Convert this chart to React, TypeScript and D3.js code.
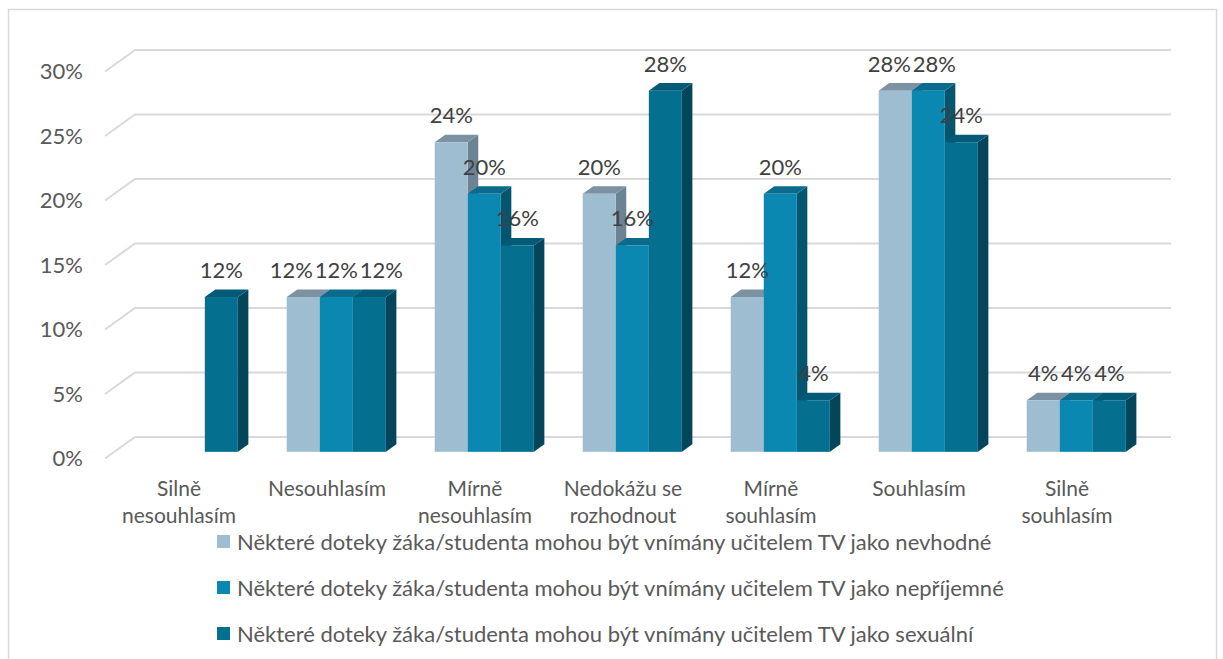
import React from 'react';
import * as d3 from 'd3';

const categories = [
  ['Silně', 'nesouhlasím'],
  ['Nesouhlasím'],
  ['Mírně', 'nesouhlasím'],
  ['Nedokážu se', 'rozhodnout'],
  ['Mírně', 'souhlasím'],
  ['Souhlasím'],
  ['Silně', 'souhlasím'],
];
const seriesNames = [
  'Některé doteky žáka/studenta mohou být vnímány učitelem TV jako nevhodné',
  'Některé doteky žáka/studenta mohou být vnímány učitelem TV jako nepříjemné',
  'Některé doteky žáka/studenta mohou být vnímány učitelem TV jako sexuální',
];
const nevhodne = [0, 12, 24, 20, 12, 28, 4];
const neprijemne = [0, 12, 20, 16, 20, 28, 4];
const sexualni = [12, 12, 16, 28, 4, 24, 4];
const yTicks = [0, 5, 10, 15, 20, 25, 30];

const values = [nevhodne, neprijemne, sexualni];
const palette = [
  { front: '#9fbdd0', top: '#7c91a2', side: '#6b8393' },
  { front: '#0b88b2', top: '#0a6b8c', side: '#05556f' },
  { front: '#056f8f', top: '#055b77', side: '#03465c' },
];

const W = 1223;
const H = 659;
const FONT = 'Lato, "Open Sans", sans-serif';
const FS = 22;
// depth of the 3D box (back plane -> front plane)
const DX = -30;
const DY = 21.5;
const FRONT = 0.69; // bar front face position along depth
const BACK = 0.34; // bar back face position along depth

const pct = d3.format('.0%');
const textWidth = (s: string) =>
  (s.replace('%', '').length * 0.58 + 0.75) * FS;

// spread labels of one group apart when they collide
function spread(items: { x: number; y: number; w: number }[]) {
  const gap = 3;
  let clusters = items.map((it) => [it]);
  let merged = true;
  while (merged) {
    merged = false;
    for (let i = 1; i < clusters.length; i++) {
      const a = clusters[i - 1];
      const b = clusters[i];
      const la = a[a.length - 1];
      const fb = b[0];
      if (Math.abs(la.y - fb.y) < FS && fb.x - la.x < (la.w + fb.w) / 2 + gap) {
        const c = a.concat(b);
        const mean = d3.mean(c, (d) => d.x) as number;
        const total = d3.sum(c, (d) => d.w) + gap * (c.length - 1);
        let cur = mean - total / 2;
        c.forEach((d) => {
          d.x = cur + d.w / 2;
          cur += d.w + gap;
        });
        clusters.splice(i - 1, 2, c);
        merged = true;
        break;
      }
    }
  }
}

const App = () => {
  const y = d3.scaleLinear().domain([0, 30]).range([437, 50]);
  const x0 = d3
    .scaleBand<number>()
    .domain(d3.range(categories.length))
    .range([135, 1171])
    .paddingInner(0.33)
    .paddingOuter(0.165);
  const x1 = d3
    .scaleBand<number>()
    .domain(d3.range(values.length))
    .range([0, x0.bandwidth()]);

  const fdx = DX * FRONT;
  const fdy = DY * FRONT;
  const bdx = DX * BACK - fdx; // from front to back of bar
  const bdy = DY * BACK - fdy;

  const bars: any[] = [];
  const labels: any[] = [];
  categories.forEach((_, ci) => {
    const group: { x: number; y: number; w: number; t: string; k: string }[] = [];
    values.forEach((arr, si) => {
      const v = arr[ci];
      if (!v) return;
      const xl = (x0(ci) as number) + (x1(si) as number) + fdx;
      const xr = xl + x1.bandwidth();
      const yt = y(v) + fdy;
      const yb = y(0) + fdy;
      const c = palette[si];
      bars.push(
        <g key={`b${ci}-${si}`}>
          <path
            d={`M${xr},${yt}L${xr + bdx},${yt + bdy}L${xr + bdx},${yb + bdy}L${xr},${yb}Z`}
            fill={c.side}
          />
          <path
            d={`M${xl},${yt}L${xl + bdx},${yt + bdy}L${xr + bdx},${yt + bdy}L${xr},${yt}Z`}
            fill={c.top}
          />
          <rect x={xl} y={yt} width={xr - xl} height={yb - yt} fill={c.front} />
        </g>
      );
      const t = pct(v / 100);
      group.push({ x: (xl + xr) / 2, y: yt - 19, w: textWidth(t), t, k: `l${ci}-${si}` });
    });
    spread(group);
    group.forEach((g) =>
      labels.push(
        <text key={g.k} x={g.x} y={g.y} textAnchor="middle" fontSize={FS} fill="#404040">
          {g.t}
        </text>
      )
    );
  });

  return (
    <div>
      <style>{`body{margin:0}`}</style>
      <svg width={W} height={H} style={{ display: 'block', fontFamily: FONT }}>
        <rect width={W} height={H} fill="#fff" />
        <rect x={8.5} y={9.5} width={1208} height={700} fill="none" stroke="#d9d9d9" strokeWidth={1.5} />

        {/* gridlines on the back wall and the side wall */}
        {yTicks.map((t) => (
          <g key={t}>
            <path
              d={`M${135 + DX},${y(t) + DY}L135,${y(t)}L1171,${y(t)}`}
              fill="none"
              stroke="#d9d9d9"
              strokeWidth={2}
            />
            <text
              x={83}
              y={y(t) + DY}
              dy="0.35em"
              textAnchor="end"
              fontSize={FS}
              fill="#595959"
            >
              {t}%
            </text>
          </g>
        ))}

        {bars}
        {labels}

        {categories.map((lines, ci) => {
          const cx = (x0(ci) as number) + x0.bandwidth() / 2 + DX;
          return (
            <text key={ci} x={cx} y={496} textAnchor="middle" fontSize={21} fill="#595959">
              {lines.map((l, i) => (
                <tspan key={i} x={cx} dy={i === 0 ? 0 : 27}>
                  {l}
                </tspan>
              ))}
            </text>
          );
        })}

        {seriesNames.map((name, si) => (
          <g key={name} transform={`translate(217,${542 + si * 46})`}>
            <rect x={0} y={-7} width={13} height={13} fill={palette[si].front} />
            <text x={20} y={0} dy="0.35em" fontSize={FS} fill="#595959">
              {name}
            </text>
          </g>
        ))}
      </svg>
    </div>
  );
};

export default App;
